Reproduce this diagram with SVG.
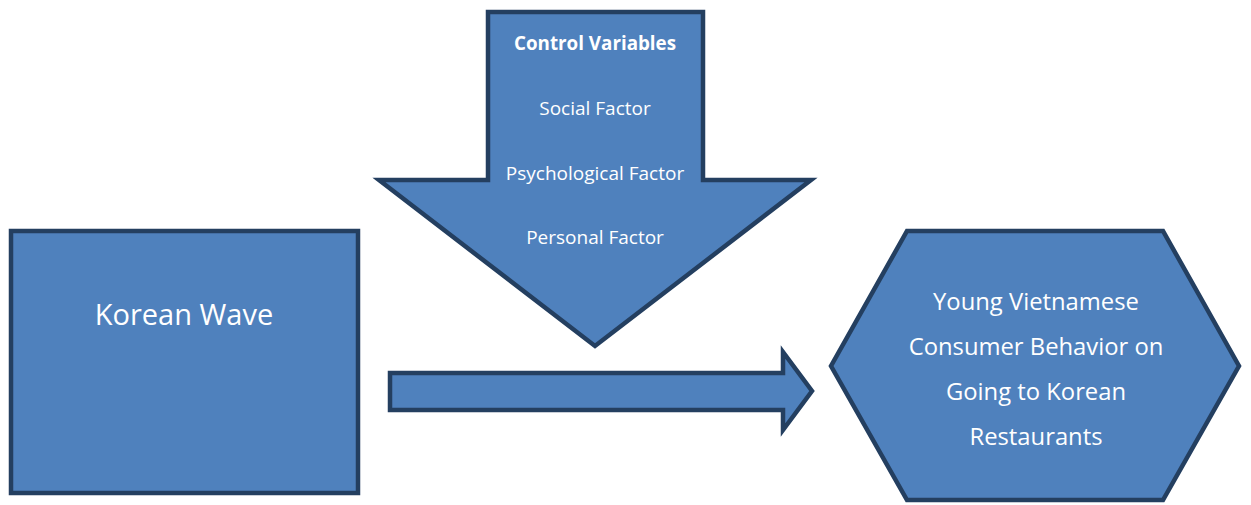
<svg xmlns="http://www.w3.org/2000/svg" width="1251" height="505" viewBox="0 0 1251 505">
<style>
.shape{fill:#4F81BD;stroke:#243F60;stroke-width:4.5;stroke-linejoin:miter}
.t{fill:#ffffff;font-family:"Open Sans","Noto Sans","DejaVu Sans",sans-serif;text-anchor:middle}
.f{font-size:19px}
.h{font-size:23.8px}
</style>
<rect width="1251" height="505" fill="#ffffff"/>
<g id="korean-wave">
<rect class="shape" x="11" y="231" width="347" height="262"/>
<text class="t" x="184" y="325" font-size="29">Korean Wave</text>
</g>
<g id="control-variables">
<polygon class="shape" points="488,12 703,12 703,180 811,180 595,346 379,180 488,180"/>
<text class="t" x="595" y="50" font-size="18.8" font-weight="bold">Control Variables</text>
<text class="t f" x="595" y="115">Social Factor</text>
<text class="t f" x="595" y="180">Psychological Factor</text>
<text class="t f" x="595" y="244">Personal Factor</text>
</g>
<g id="connectors">
<polygon class="shape" points="390,373 783,373 783,352 812,391 783,430 783,410 390,410"/>
</g>
<g id="consumer-behavior">
<polygon class="shape" points="907,231 1163,231 1239,366 1163,500 907,500 831,366"/>
<text class="t h" x="1036" y="310">Young Vietnamese</text>
<text class="t h" x="1036" y="355">Consumer Behavior on</text>
<text class="t h" x="1036" y="400">Going to Korean</text>
<text class="t h" x="1036" y="445">Restaurants</text>
</g>
</svg>
